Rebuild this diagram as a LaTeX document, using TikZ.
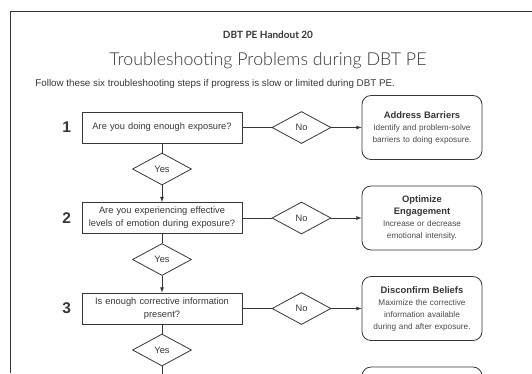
\documentclass[tikz,border=0pt]{standalone}
\usepackage{fontspec}
\setmainfont{Liberation Sans}
\newfontfamily\headfont{Lato}
\newfontfamily\titlefont{Lato Light}
\usetikzlibrary{shapes, arrows, shadings}
\definecolor{ink}{HTML}{363636}
\definecolor{bodyink}{HTML}{4A4A4A}
\tikzstyle{question}=[draw=ink, text width=150pt, 
    text centered, minimum height=31pt, inner xsep=5pt,
    font=\fontsize{9.3}{13}\selectfont, text=ink]
\tikzstyle{answer}=[diamond, draw=ink, aspect=1.85, inner sep=0pt,
    minimum width=59pt, minimum height=32pt,
    font=\fontsize{9.3}{11}\selectfont, text=ink]
\tikzstyle{fix}=[draw=ink, text width=116pt, rounded corners=9pt,
    text centered, minimum height=64pt, inner xsep=2pt,
    font=\fontsize{8.2}{12}\selectfont, text=bodyink]
\tikzstyle{stepnum}=[font=\fontsize{15.5}{16}\selectfont\bfseries, text=ink]
\newcommand{\fixhead}[1]{{\fontsize{9.4}{12}\selectfont\bfseries\color{ink}#1}}
\def\rowdist{90.5}
\def\yesdist{41.5}

\begin{document}
\begin{tikzpicture}[x=1pt, y=-1pt, >=latex, line width=0.8pt]
    \useasboundingbox (0,0) rectangle (532,373);
    \clip (0,0) rectangle (532,373);
    % page frame and heading
    \draw[ink] (532,11) -- (10,11) -- (10,373);
    \node (handout) at (268,35) [font=\headfont\fontsize{10}{11}\selectfont\bfseries, text=ink] {DBT PE Handout 20};
    \shade[left color=white, middle color=gray!45, right color=white] (196,42.6) rectangle (340,43.4);
    \node (title) at (268,61) [font=\titlefont\fontsize{17.8}{20}\selectfont, text=ink] {Troubleshooting Problems during DBT PE};
    \node (intro) at (35,83.5) [anchor=west, inner sep=0pt, font=\fontsize{9.8}{11}\selectfont, text=ink] {Follow these six troubleshooting steps if progress is slow or limited during DBT PE.};
    % questions
    \node (q1) at (162,127.5) [question] {Are you doing enough exposure?};
    \path (q1)+(0,\rowdist) node (q2) [question] {Are you experiencing effective\\levels of emotion during exposure?};
    \path (q2)+(0,\rowdist) node (q3) [question] {Is enough corrective information\\present?};
    \path (q1.west)+(-15,0) node (n1) [stepnum] {1};
    \path (q2.west)+(-15,0) node (n2) [stepnum] {2};
    \path (q3.west)+(-15,0) node (n3) [stepnum] {3};
    \path (q1)+(0,\yesdist) node (yes1) [answer] {Yes};
    \path (q2)+(0,\yesdist) node (yes2) [answer] {Yes};
    \path (q3)+(0,\yesdist) node (yes3) [answer] {Yes};
    \path (q1)+(139.5,0) node (no1) [answer] {No};
    \path (q2)+(139.5,0) node (no2) [answer] {No};
    \path (q3)+(139.5,0) node (no3) [answer] {No};
    % what to do
    \path (q1)+(260,0) node (fix1) [fix] {\fixhead{Address Barriers}\\Identify and problem-solve\\barriers to doing exposure.};
    \path (q2)+(260,0) node (fix2) [fix] {\fixhead{Optimize\\Engagement}\\Increase or decrease\\emotional intensity.};
    \path (q3)+(260,0) node (fix3) [fix] {\fixhead{Disconfirm Beliefs}\\Maximize the corrective\\information available\\during and after exposure.};
    \path (q3)+(260,\rowdist) node (fix4) [fix] {};
    \path (yes3)+(0,40) coordinate (down);
    % connectors
    \draw[ink] (q1) -- (no1);
    \draw[ink,->] (no1) -- (fix1);
    \draw[ink] (q2) -- (no2);
    \draw[ink,->] (no2) -- (fix2);
    \draw[ink] (q3) -- (no3);
    \draw[ink,->] (no3) -- (fix3);
    \draw[ink] (q1) -- (yes1);
    \draw[ink,->] (yes1) -- (q2);
    \draw[ink] (q2) -- (yes2);
    \draw[ink,->] (yes2) -- (q3);
    \draw[ink] (q3) -- (yes3);
    \draw[ink,->] (yes3) -- (down);
\end{tikzpicture}
\end{document}
